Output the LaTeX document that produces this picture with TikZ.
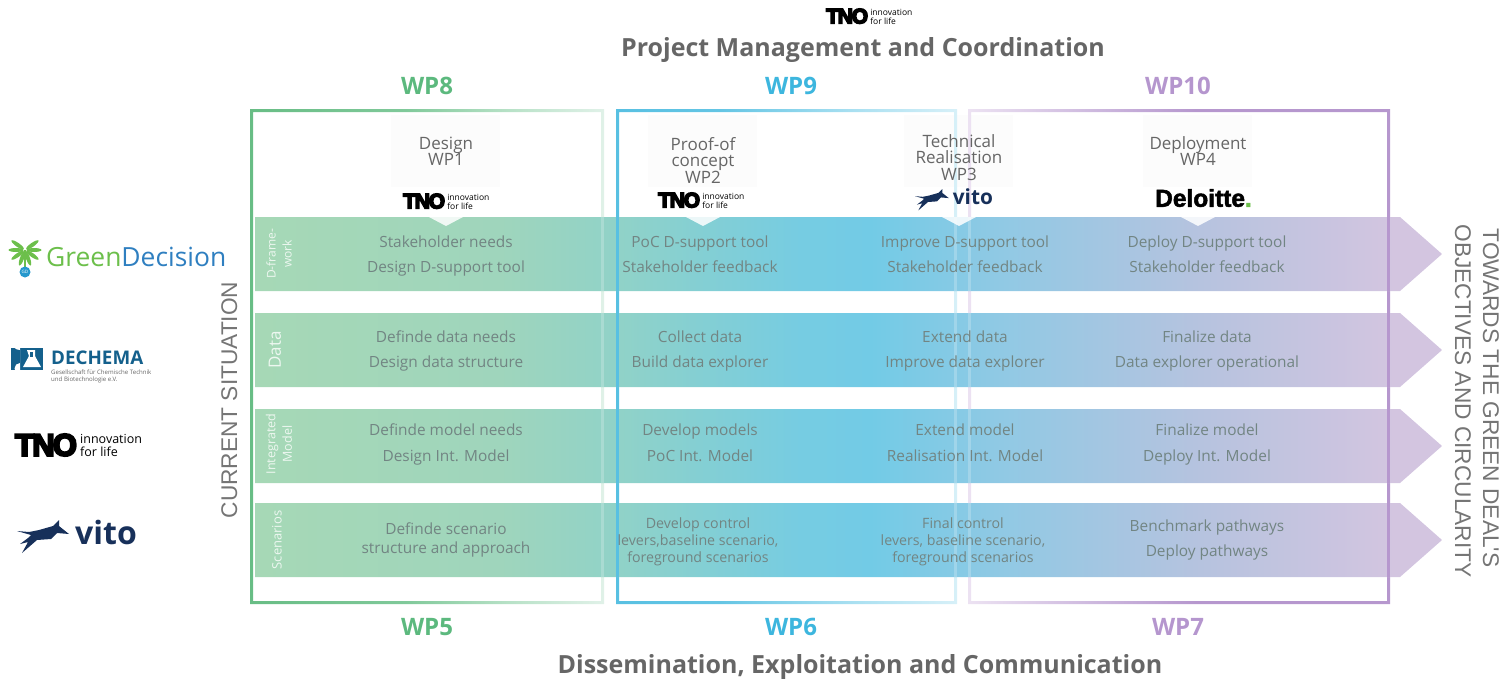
\documentclass[tikz,border=0pt]{standalone}
\usepackage{fontspec}
\setmainfont{Open Sans}
\newfontfamily\headfont{Open Sans}
\newfontfamily\capsfont{Liberation Sans}
\newfontfamily\tnofont[FakeBold=7,LetterSpace=-6]{Liberation Sans Bold}
\newfontfamily\delfont[FakeBold=2]{Liberation Sans Bold}
\newcommand{\fs}[1]{\fontsize{#1}{#1}\selectfont}
\definecolor{txtg}{HTML}{728583}
\definecolor{headg}{HTML}{666666}
\definecolor{wpgreen}{HTML}{5CB97E}
\definecolor{wpblue}{HTML}{3DB6DE}
\definecolor{wppurple}{HTML}{B596CE}
\definecolor{navy}{HTML}{17305A}
\definecolor{gdgreen}{HTML}{6CBF4B}
\definecolor{gdblue}{HTML}{2F7FC0}
\definecolor{dechblue}{HTML}{14608C}
\definecolor{bA}{HTML}{A6D8B6}
\definecolor{bB}{HTML}{9FD5BC}
\definecolor{bC}{HTML}{90D2C8}
\definecolor{bD}{HTML}{84CFD3}
\definecolor{bE}{HTML}{76CCE2}
\definecolor{bF}{HTML}{72CBE6}
\definecolor{bG}{HTML}{90C9E4}
\definecolor{bH}{HTML}{B6C3DF}
\definecolor{bI}{HTML}{D3C5E0}
\definecolor{gA}{RGB}{104,189,133}
\definecolor{gB}{RGB}{128,201,154}
\definecolor{gC}{RGB}{185,226,200}
\definecolor{gD}{RGB}{224,241,232}
\definecolor{lA}{RGB}{88,192,226}
\definecolor{lB}{RGB}{100,197,228}
\definecolor{lC}{RGB}{170,224,241}
\definecolor{lD}{RGB}{215,240,248}
\definecolor{pA}{RGB}{236,226,242}
\definecolor{pB}{RGB}{205,184,222}
\definecolor{pC}{RGB}{182,151,206}
\pgfdeclarehorizontalshading{bandshade}{100bp}{
 color(0bp)=(bA); color(25bp)=(bA); color(35.3bp)=(bB); color(40.4bp)=(bC);
 color(43.7bp)=(bD); color(48bp)=(bE); color(50.9bp)=(bF); color(56.4bp)=(bG);
 color(64.8bp)=(bH); color(73bp)=(bI); color(100bp)=(bI)}
\pgfdeclarehorizontalshading{frameg}{100bp}{
 color(0bp)=(gA); color(25bp)=(gA); color(47bp)=(gB); color(62bp)=(gC);
 color(75bp)=(gD); color(100bp)=(gD)}
\pgfdeclarehorizontalshading{frameb}{100bp}{
 color(0bp)=(lA); color(25bp)=(lA); color(40bp)=(lB); color(60bp)=(lC);
 color(75bp)=(lD); color(100bp)=(lD)}
\pgfdeclarehorizontalshading{framep}{100bp}{
 color(0bp)=(pA); color(25bp)=(pA); color(40bp)=(pB); color(52bp)=(pC);
 color(75bp)=(pC); color(100bp)=(pC)}
\tikzset{
 bandtxt/.style={inner sep=0pt,text=txtg,align=center,font=\fs{15.4},text height=11pt,text depth=0pt},
 smalltxt/.style={inner sep=0pt,text=txtg,align=center,font=\fs{14.2},text height=10pt,text depth=0pt},
 sidelab/.style={inner sep=0pt,text=white,align=center,rotate=90,opacity=.8},
 wptitle/.style={inner sep=0pt,text=headg,align=center,font=\fs{17},text height=12pt,text depth=0pt},
 wphead/.style={inner sep=0pt,font=\headfont\bfseries\fs{24},text height=17pt,text depth=0pt},
 mainhead/.style={inner sep=0pt,text=headg,font=\headfont\bfseries\fs{25},text height=18pt,text depth=0pt},
 sidecap/.style={inner sep=0pt,text=headg!90!white,font=\capsfont\fs{22.7},text height=16pt,text depth=0pt},
 bandshape/.style={shading=bandshade,shading angle=0},
 tip/.style={fill=white,fill opacity=.85},
 palebar/.style={fill=white,fill opacity=.22},
}
\newcommand{\tnologo}[4]{% name, x, y, scale
 \begin{scope}[shift={(#2,#3)},scale=#4,transform shape]
 \node[inner sep=0pt,anchor=west,text=black] (#1a) at (0,12) {\tnofont\fs{31}TNO};
 \node[inner sep=0pt,anchor=west,text=black,align=left,font=\fs{12.5}] (#1b) at (65,12.5) {innovation\\[.5pt]for life};
 \end{scope}}
\newcommand{\vitologo}[4]{% name, x, y, scale
 \begin{scope}[shift={(#2,#3)},scale=#4,transform shape]
 \fill[navy] (0,11)--(12,12)--(22,10)--(36,6)--(42,0)--(42,6)--(52,14)--(40,13)--(34,19)--(20,20)--(5,33)--(11,22)--(3,24)--(11,18)--(14,15)--cycle;
 \node[inner sep=0pt,anchor=west,text=navy] (#1) at (58,12) {\headfont\bfseries\fs{32}vito};
 \end{scope}}
\begin{document}
\begin{tikzpicture}[x=1pt,y=-1pt]
\useasboundingbox (0,0) rectangle (1505,678);
% pale cards
\foreach \l in {391,648,904,1143}{
 \fill[black!1] (\l,115) rectangle (\l+109,187);
}
% frames
\path[shading=frameg,even odd rule] (250,109) rectangle (604,604) (253,112) rectangle (601,601);
\path[shading=frameb,even odd rule] (616,109) rectangle (957,604) (619,112) rectangle (954,601);
\path[shading=framep,even odd rule] (968,109) rectangle (1390,604) (971,112) rectangle (1387,601);
% bands and the parts of the frames that cross them
\foreach \t in {217,313,409,503}{
 \path[bandshape] (255,\t) -- (1400,\t) -- (1442,\t+37) -- (1400,\t+74) -- (255,\t+74) -- cycle;
 \fill[lA] (616,\t) rectangle (619,\t+74);
 \fill[pC] (1387,\t) rectangle (1390,\t+74);
 \foreach \b in {601,954,968}{
  \fill[palebar] (\b,\t) rectangle (\b+3,\t+74);
 }
}
% pointers
\foreach \tp in {446,703,959,1198}{
 \fill[tip] (\tp-17,217) -- (\tp+17,217) -- (\tp,226) -- cycle;
}
\fill[white] (393,187) rectangle (499,217);
\fill[white] (648,187) rectangle (754,217);
% card titles
\node[wptitle] (t1a) at (446,143) {Design};
\node[wptitle] (t1b) at (446,159) {WP1};
\node[wptitle] (t2a) at (703,144) {Proof-of};
\node[wptitle] (t2b) at (703,160) {concept};
\node[wptitle] (t2c) at (703,177) {WP2};
\node[wptitle] (t3a) at (959,141) {Technical};
\node[wptitle] (t3b) at (959,157) {Realisation};
\node[wptitle] (t3c) at (959,174) {WP3};
\node[wptitle] (t4a) at (1198,143) {Deployment};
\node[wptitle] (t4b) at (1198,159) {WP4};
% small logos
\tnologo{lgA}{403}{193}{0.68}
\tnologo{lgB}{658}{192}{0.68}
\tnologo{lgT}{826}{8}{0.68}
\vitologo{lgV}{915}{189}{0.65}
\node[inner sep=0pt,text=black] (lgD) at (1203.5,198) {\delfont\fs{24.5}Deloitte\textcolor{gdgreen}{.}};
% heads
\node[mainhead] (h1) at (863,47) {Project Management and Coordination};
\node[mainhead] (h2) at (860,664) {Dissemination, Exploitation and Communication};
\node[wphead,text=wpgreen] (w8) at (427,86) {WP8};
\node[wphead,text=wpblue] (w9) at (791,86) {WP9};
\node[wphead,text=wppurple] (w10) at (1178,86) {WP10};
\node[wphead,text=wpgreen] (w5) at (427,627) {WP5};
\node[wphead,text=wpblue] (w6) at (791,627) {WP6};
\node[wphead,text=wppurple] (w7) at (1178,627) {WP7};
% side captions
\node[sidecap,rotate=90] (cs) at (229,400) {CURRENT SITUATION};
\node[sidecap,rotate=-90] (g1) at (1491,398) {TOWARDS THE GREEN DEAL'S};
\node[sidecap,rotate=-90] (g2) at (1463,401) {OBJECTIVES AND CIRCULARITY};
% band labels
\node[sidelab,font=\fs{12}] (s1) at (279,254) {D-frame-\\[4pt]work};
\node[sidelab,font=\fs{17}] (s2) at (275,350) {Data};
\node[sidelab,font=\fs{12.5}] (s3) at (279,444) {Integrated\\[4pt]Model};
\node[sidelab,font=\fs{13}] (s4) at (277,540) {Scenarios};
% row 1
\node[bandtxt] (a1) at (446,242) {Stakeholder needs};
\node[bandtxt] (a2) at (446,267) {Design D-support tool};
\node[bandtxt] (a3) at (700,242) {PoC D-support tool};
\node[bandtxt] (a4) at (700,267) {Stakeholder feedback};
\node[bandtxt] (a5) at (965,242) {Improve D-support tool};
\node[bandtxt] (a6) at (965,267) {Stakeholder feedback};
\node[bandtxt] (a7) at (1207,242) {Deploy D-support tool};
\node[bandtxt] (a8) at (1207,267) {Stakeholder feedback};
% row 2
\node[bandtxt] (b1) at (446,337) {Definde data needs};
\node[bandtxt] (b2) at (446,362) {Design data structure};
\node[bandtxt] (b3) at (700,337) {Collect data};
\node[bandtxt] (b4) at (700,362) {Build data explorer};
\node[bandtxt] (b5) at (965,337) {Extend data};
\node[bandtxt] (b6) at (965,362) {Improve data explorer};
\node[bandtxt] (b7) at (1207,337) {Finalize data};
\node[bandtxt] (b8) at (1207,362) {Data explorer operational};
% row 3
\node[bandtxt] (c1) at (446,430) {Definde model needs};
\node[bandtxt] (c2) at (446,456) {Design Int. Model};
\node[bandtxt] (c3) at (700,430) {Develop models};
\node[bandtxt] (c4) at (700,456) {PoC Int. Model};
\node[bandtxt] (c5) at (965,430) {Extend model};
\node[bandtxt] (c6) at (965,456) {Realisation Int. Model};
\node[bandtxt] (c7) at (1207,430) {Finalize model};
\node[bandtxt] (c8) at (1207,456) {Deploy Int. Model};
% row 4
\node[bandtxt] (d1) at (446,529) {Definde scenario};
\node[bandtxt] (d2) at (446,548) {structure and approach};
\node[smalltxt] (d3) at (698,523) {Develop control};
\node[smalltxt] (d4) at (698,540) {levers,baseline scenario,};
\node[smalltxt] (d5) at (698,557) {foreground scenarios};
\node[smalltxt] (d6) at (963,523) {Final control};
\node[smalltxt] (d7) at (963,540) {levers, baseline scenario,};
\node[smalltxt] (d8) at (963,557) {foreground scenarios};
\node[bandtxt] (d9) at (1207,526) {Benchmark pathways};
\node[bandtxt] (d10) at (1207,551) {Deploy pathways};
% GreenDecision
\foreach \a in {0,-35,-70,-110,-145,180,35,145}{
 \fill[gdgreen,rotate around={\a:(25,250)}] (34,250) ellipse (7.5 and 2);
}
\fill[gdgreen] (24,250) rectangle (26,270);
\fill[gdblue!80!cyan] (25,272) circle (5.5);
\node[inner sep=0pt,text=white] (gd0) at (25,272) {\fs{4.5}GD};
\node[inner sep=0pt,anchor=west] (gd) at (46,257) {\fs{26.4}\textcolor{gdgreen}{Green}\textcolor{gdblue}{Decision}};
% DECHEMA
\fill[dechblue] (11,348) rectangle (43,370);
\fill[white] (27,350) -- (35,350) -- (35,356) -- (41,367) -- (23,367) -- (29,356) -- cycle;
\fill[dechblue] (30,352) rectangle (33,357);
\fill[white] (20,350) arc (90:270:8.5) -- (20,363) arc (270:90:5.5) -- cycle;
\node[inner sep=0pt,anchor=west,text=dechblue] (de1) at (51,358) {\fs{18.8}\bfseries DECHEMA};
\node[inner sep=0pt,anchor=west,text=headg,align=left,font=\fs{6.1}] (de2) at (51,376) {Gesellschaft für Chemische Technik\\[.8pt]und Biotechnologie e.V.};
% TNO, vito
\tnologo{lgL}{15}{433}{1}
\vitologo{lgW}{17}{520}{1}
\end{tikzpicture}
\end{document}
